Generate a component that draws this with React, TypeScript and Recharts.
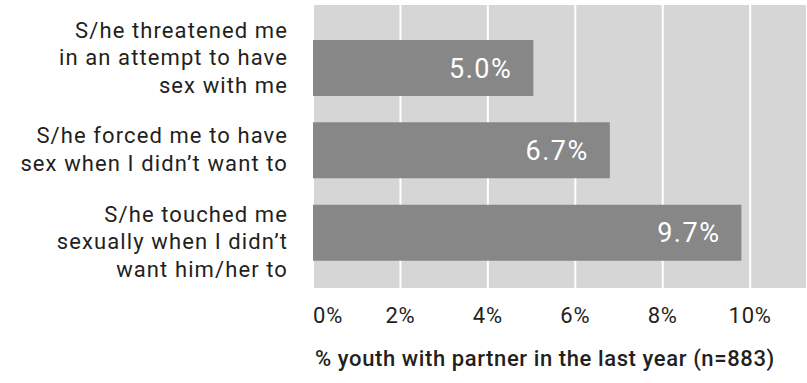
import React from "react";
import { BarChart, Bar, XAxis, YAxis, CartesianGrid, LabelList } from "recharts";

const categories = ["threatened", "forced", "touched"];
const categoryLines: Record<string, string[]> = {
  threatened: ["S/he threatened me", "in an attempt to have", "sex with me"],
  forced: ["S/he forced me to have", "sex when I didn\u2019t want to"],
  touched: ["S/he touched me", "sexually when I didn\u2019t", "want him/her to"],
};
const values = [5.04, 6.79, 9.8];
const valueLabels = ["5.0%", "6.7%", "9.7%"];
const xTicks = [0, 2, 4, 6, 8, 10];
const xTickLabels = ["0%", "2%", "4%", "6%", "8%", "10%"];
const axisTitle = "% youth with partner in the last year (n=883)";

const data = categories.map((c, i) => ({ cat: c, value: values[i], label: valueLabels[i] }));

const FONT = "Roboto, 'DejaVu Sans', sans-serif";
const TEXT = "#231f20";

const CategoryTick = (props: any) => {
  const { x, y, payload } = props;
  const lines = categoryLines[payload.value] || [String(payload.value)];
  const lh = 27.5;
  const cap = 16;
  const block = cap + (lines.length - 1) * lh;
  const first = y - block / 2 + cap;
  const tx = x + 60;
  return (
    <text x={tx} textAnchor="end" fill={TEXT} fontFamily={FONT} fontSize={22} letterSpacing={1.1}>
      {lines.map((l, i) => (
        <tspan key={i} x={tx} y={first + i * lh}>
          {l}
        </tspan>
      ))}
    </text>
  );
};

const XTick = (props: any) => {
  const { x, y, payload } = props;
  const idx = xTicks.indexOf(payload.value);
  const txt = idx >= 0 ? xTickLabels[idx] : String(payload.value);
  return (
    <text x={x} y={y + 35} textAnchor={payload.value === 0 ? "start" : "middle"} fill={TEXT} fontFamily={FONT} fontSize={22} letterSpacing={0.8}>
      {txt}
    </text>
  );
};

const ValueLabel = (props: any) => {
  const { x, y, width, height, value } = props;
  return (
    <text x={x + width - 21} y={y + height / 2 + 9.5} textAnchor="end" fill="#ffffff" fontFamily={FONT} fontSize={27} letterSpacing={1.5}>
      {value}
    </text>
  );
};

const TitleLabel = (props: any) => {
  const { viewBox } = props;
  return (
    <text x={viewBox.x + 2} y={viewBox.y + 78} fill={TEXT} fontFamily={FONT} fontSize={22} fontWeight={500} letterSpacing={0.6}>
      {axisTitle}
    </text>
  );
};

export default function App() {
  return (
    <div style={{ position: "absolute", left: 0, top: 0, width: 807, height: 383, background: "#fff" }}>
      <BarChart
        width={807}
        height={383}
        data={data}
        layout="vertical"
        margin={{ top: 5, right: 0, left: 0, bottom: 0 }}
      >
        <CartesianGrid yAxisId="labels" horizontal={false} fill="#d6d6d6" fillOpacity={1} stroke="#ffffff" strokeWidth={2} />
        <XAxis
          type="number"
          domain={[0, 11.3]}
          ticks={xTicks}
          axisLine={false}
          tickLine={false}
          tickSize={0}
          tickMargin={0}
          height={95}
          tick={<XTick />}
          label={<TitleLabel />}
          interval={0}
          allowDataOverflow
        />
        <YAxis
          yAxisId="labels"
          type="category"
          dataKey="cat"
          width={313}
          axisLine={false}
          tickLine={false}
          tickSize={0}
          tickMargin={25}
          padding={{ top: 6, bottom: 1 }}
          tick={<CategoryTick />}
          interval={0}
        />
        <YAxis yAxisId="bars" type="category" dataKey="cat" hide padding={{ top: 22, bottom: 14 }} />
        <Bar yAxisId="bars" dataKey="value" fill="#878787" barSize={56} isAnimationActive={false}>
          <LabelList dataKey="label" content={<ValueLabel />} />
        </Bar>
      </BarChart>
    </div>
  );
}
